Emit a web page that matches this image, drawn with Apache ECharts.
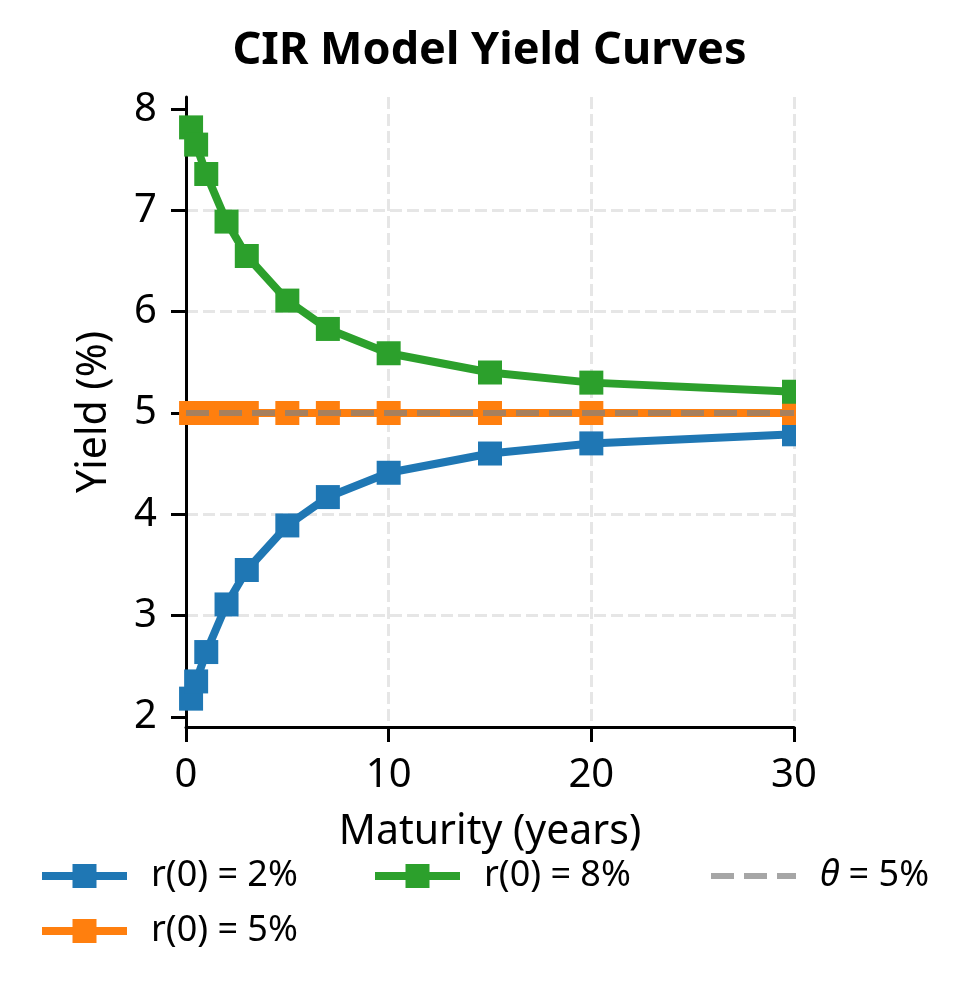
<!DOCTYPE html>
<html>
<head>
<meta charset="utf-8">
<script src="https://cdn.jsdelivr.net/npm/echarts@6/dist/echarts.min.js"></script>
<style>
html,body{margin:0;padding:0;background:#fff;}
#chart{width:979px;height:997px;}
</style>
</head>
<body>
<div id="chart"></div>
<script>
const maturities = [0.25, 0.5, 1, 2, 3, 5, 7, 10, 15, 20, 30];
const yieldLow = [2.18, 2.35, 2.64, 3.11, 3.45, 3.89, 4.17, 4.41, 4.60, 4.70, 4.79];
const yieldMid = [5, 5, 5, 5, 5, 5, 5, 5, 5, 5, 5];
const yieldHigh = [7.82, 7.65, 7.36, 6.89, 6.55, 6.11, 5.83, 5.59, 5.40, 5.30, 5.21];
const thetaX = [0, 30];
const thetaY = [5, 5];
const yTicks = [2, 3, 4, 5, 6, 7, 8];
const seriesNames = ['r(0) = 2%', 'r(0) = 5%', 'r(0) = 8%', 'θ = 5%'];

const FONT = 'Noto Sans';
const pair = (xs, ys) => xs.map((x, i) => [x, ys[i]]);
const colors = ['#1f77b4', '#ff7f0e', '#2ca02c', '#808080'];

const chart = echarts.init(document.getElementById('chart'), null, {renderer: 'canvas'});

function lineSeries(name, data, color) {
  return {
    name: name, type: 'line', data: pair(maturities, data),
    symbol: 'rect', symbolSize: 24, showSymbol: true,
    lineStyle: {color: color, width: 8},
    itemStyle: {color: color},
    color: color, z: 3, animation: false, clip: true
  };
}

const legendText = {fontFamily: FONT, fontSize: 36, color: '#000', padding: [0, 0, 0, 19],
  rich: {it: {fontFamily: FONT, fontSize: 36, fontStyle: 'italic', color: '#000'}}};

function legendAt(idx, left, top) {
  const isTheta = idx === 3;
  return {
    data: [seriesNames[idx]], left: left, top: top, orient: 'horizontal', padding: 0,
    itemWidth: 85, itemHeight: 30, textStyle: legendText,
    selectedMode: false,
    lineStyle: isTheta
      ? {color: colors[idx], width: 6, type: [23, 10], opacity: 0.7}
      : {color: colors[idx], width: 8, type: 'solid', opacity: 1},
    itemStyle: isTheta ? {opacity: 0} : {color: colors[idx], opacity: 1},
    formatter: n => n.startsWith('θ') ? '{it|θ} = 5%' : n
  };
}

const option = {
  backgroundColor: '#fff',
  animation: false,
  title: {
    text: 'CIR Model Yield Curves', left: 'center', top: 24,
    textStyle: {fontFamily: FONT, fontSize: 45, fontWeight: 'bold', color: '#000'}
  },
  grid: {left: 186, right: 185, top: 97, bottom: 270, containLabel: false},
  xAxis: {
    type: 'value', min: 0, max: 30, interval: 10,
    name: 'Maturity (years)', nameLocation: 'middle', nameGap: 85,
    nameTextStyle: {fontFamily: FONT, fontSize: 41, color: '#000'},
    axisLine: {show: true, onZero: false, lineStyle: {color: '#000', width: 3}},
    axisTick: {show: true, length: 15, lineStyle: {color: '#000', width: 3}},
    axisLabel: {fontFamily: FONT, fontSize: 40, color: '#000', margin: 29},
    splitLine: {show: true, lineStyle: {color: '#e6e6e6', width: 3, type: [12, 5]}}
  },
  yAxis: {
    type: 'value', min: 1.9, max: 8.12,
    name: 'Yield (%)', nameLocation: 'middle', nameGap: 71,
    nameTextStyle: {fontFamily: FONT, fontSize: 41, color: '#000'},
    axisLine: {show: true, onZero: false, lineStyle: {color: '#000', width: 3}},
    axisTick: {show: true, length: 15, lineStyle: {color: '#000', width: 3}, customValues: yTicks},
    axisLabel: {fontFamily: FONT, fontSize: 40, color: '#000', margin: 29, customValues: yTicks},
    splitLine: {show: true, showMinLine: false, showMaxLine: false,
      lineStyle: {color: '#e6e6e6', width: 3, type: [12, 5]}}
  },
  legend: [
    legendAt(0, 38, 858),
    legendAt(1, 38, 913),
    legendAt(2, 371, 858),
    legendAt(3, 708, 858)
  ],
  graphic: [{
    type: 'rect', left: 796, top: 80, z: 100,
    shape: {width: 60, height: 645}, style: {fill: '#fff'}, silent: true
  }],
  series: [
    lineSeries(seriesNames[0], yieldLow, colors[0]),
    lineSeries(seriesNames[1], yieldMid, colors[1]),
    lineSeries(seriesNames[2], yieldHigh, colors[2]),
    {
      name: seriesNames[3], type: 'line', data: pair(thetaX, thetaY),
      symbol: 'none', z: 5, animation: false,
      lineStyle: {color: colors[3], width: 6, type: [23, 10], opacity: 0.7},
      itemStyle: {color: colors[3], opacity: 0.7},
      color: colors[3]
    }
  ]
};
chart.setOption(option);
</script>
</body>
</html>
